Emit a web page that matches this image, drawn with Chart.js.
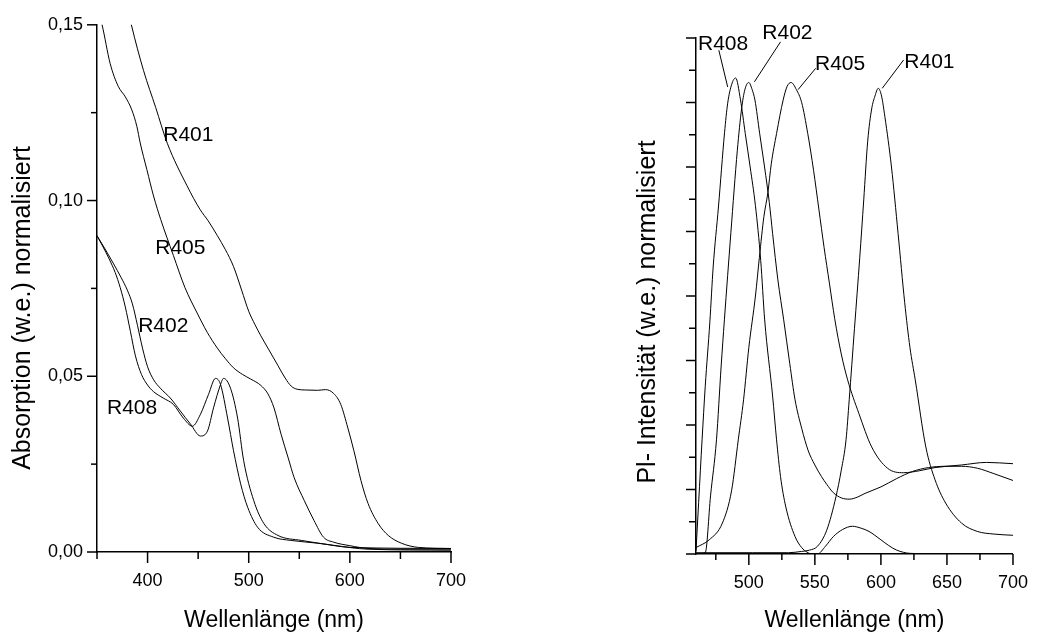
<!DOCTYPE html>
<html>
<head>
<meta charset="utf-8">
<script src="https://cdn.jsdelivr.net/npm/chart.js@4.4.1/dist/chart.umd.min.js"></script>
<style>
  html, body { margin: 0; padding: 0; background: #fff; }
  #wrap { position: relative; width: 1046px; height: 637px; }
  .box { position: absolute; top: 0; width: 523px; height: 637px; }
</style>
</head>
<body>
<div id="wrap">
  <div class="box" style="left:0"><canvas id="absChart"></canvas></div>
  <div class="box" style="left:523px"><canvas id="plChart"></canvas></div>
</div>
<script>
// ---- Absorption (left panel) ----
const absR401X = [378, 384, 396, 408, 419.5, 439, 452, 460, 469, 477, 485, 493, 500, 506, 512, 520, 529, 536, 542, 548, 556, 568, 576, 584, 591, 598, 604, 611, 618, 628, 638, 651, 668, 700];
const absR401Y = [0.158, 0.150, 0.137, 0.1265, 0.1163, 0.1042, 0.0974, 0.0942, 0.0900, 0.0860, 0.0812, 0.0745, 0.0685, 0.0648, 0.0615, 0.0575, 0.0530, 0.0495, 0.0472, 0.0463, 0.0461, 0.0460, 0.0462, 0.0451, 0.0420, 0.0353, 0.0288, 0.0203, 0.0138, 0.0081, 0.0047, 0.0025, 0.0013, 0.0010];

const absR405X = [352, 355, 363, 371, 378, 384.4, 389.4, 392.7, 399.3, 405.9, 413, 425.5, 437, 449, 459, 469, 477, 485, 494, 502, 512, 519, 525, 532, 539, 545, 555, 564.5, 574, 584, 600, 618, 650, 700];
const absR405Y = [0.153, 0.150, 0.139, 0.1325, 0.1295, 0.1258, 0.1211, 0.1164, 0.1088, 0.1013, 0.0946, 0.0844, 0.0752, 0.0680, 0.0625, 0.0580, 0.0550, 0.0524, 0.0505, 0.0492, 0.0474, 0.0450, 0.0410, 0.0335, 0.0268, 0.0211, 0.0146, 0.0090, 0.0042, 0.0028, 0.0018, 0.0010, 0.0008, 0.0008];

const absR402X = [350, 358, 366, 374, 380, 385, 390, 395, 400, 406, 412.6, 422.5, 432.4, 442.4, 452.3, 459.2, 465.2, 472.1, 475.1, 482, 489, 495, 505, 515, 529, 552, 584, 618, 700];
const absR402Y = [0.0900, 0.0862, 0.0822, 0.0780, 0.0745, 0.0706, 0.0645, 0.0580, 0.0527, 0.0490, 0.0466, 0.0438, 0.0401, 0.0364, 0.0330, 0.0344, 0.0410, 0.0476, 0.0494, 0.0466, 0.0381, 0.0260, 0.0146, 0.0081, 0.0047, 0.0033, 0.0019, 0.0008, 0.0005];

const absR408X = [350, 356, 362, 368, 373, 378, 383, 388, 394, 400, 406, 415.5, 425.5, 435.4, 444.3, 452.3, 460.2, 467.2, 472.1, 479.1, 485, 492, 499, 508.9, 524.8, 541.6, 568.5, 601.2, 700];
const absR408Y = [0.0900, 0.0868, 0.0834, 0.0795, 0.0752, 0.0697, 0.0628, 0.0558, 0.0505, 0.0475, 0.0456, 0.0438, 0.0420, 0.0381, 0.0358, 0.0392, 0.0448, 0.0494, 0.0477, 0.0381, 0.0288, 0.0194, 0.0127, 0.0070, 0.0042, 0.0033, 0.0025, 0.0013, 0.0010];

const absXTicks = [350, 400, 450, 500, 550, 600, 650, 700];
const absYTicks = [0, 0.025, 0.05, 0.075, 0.1, 0.125, 0.15];

// ---- Photoluminescence (right panel) ----
const plR408X = [460, 462, 464.6, 467, 470.5, 473, 477, 481.6, 484, 487, 490, 493.7, 497.3, 501, 505, 509, 512, 518, 521, 524, 528, 535, 540, 544, 548, 552, 558, 564, 571, 578.5, 585, 591, 600, 606, 612, 622, 650, 700];
const plR408Y = [0.05, 0.8, 1.77, 2.6, 3.6, 4.45, 5.38, 6.53, 6.99, 7.28, 7.38, 7.04, 6.52, 6.0, 5.4, 4.55, 3.63, 2.45, 1.77, 1.2, 0.73, 0.27, 0.1, 0.03, 0.0, 0.0, 0.12, 0.27, 0.38, 0.43, 0.4, 0.35, 0.22, 0.13, 0.06, 0.01, 0.0, 0.0];

const plR402X = [460, 467, 471, 475.5, 479, 481.5, 486.4, 491.3, 494.5, 497, 500, 502.5, 504.6, 508.2, 511.9, 515.5, 518, 522, 526.4, 531, 535, 540, 545, 550, 555, 559, 564, 570, 576, 582, 588, 600, 612, 624, 636, 648, 661, 673, 685, 700];
const plR402Y = [0.0, 0.02, 0.9, 1.77, 2.9, 3.63, 4.98, 6.26, 6.9, 7.2, 7.31, 7.2, 7.04, 6.52, 6.0, 5.45, 4.97, 4.25, 3.63, 2.95, 2.39, 1.95, 1.6, 1.38, 1.2, 1.08, 0.95, 0.87, 0.85, 0.88, 0.94, 1.04, 1.17, 1.28, 1.34, 1.36, 1.36, 1.33, 1.25, 1.14];

const plR405X = [460, 470, 480, 487, 492, 496, 500, 505, 508, 511.4, 514.4, 517, 521, 526, 529, 532, 536, 540, 544.6, 549, 553, 557, 561, 565, 570, 574.8, 583.3, 593, 605, 617, 629, 641, 661, 680, 700];
const plR405Y = [0.10, 0.22, 0.48, 0.99, 1.77, 2.39, 3.2, 4.0, 4.6, 5.23, 5.6, 6.05, 6.52, 7.04, 7.25, 7.31, 7.2, 7.0, 6.52, 5.95, 5.35, 4.75, 4.2, 3.65, 3.1, 2.70, 2.18, 1.66, 1.33, 1.26, 1.29, 1.34, 1.38, 1.42, 1.40];

const plR401X = [460, 503, 530, 540, 546, 552, 559, 566, 570, 573.6, 576, 580, 584, 587, 590, 593, 595.5, 598, 600.5, 603, 608, 613, 618, 622, 626, 634, 641, 649, 661, 673, 685, 700];
const plR401Y = [0.02, 0.02, 0.02, 0.04, 0.06, 0.12, 0.37, 0.89, 1.3, 1.77, 2.39, 3.5, 4.6, 5.49, 6.4, 6.9, 7.1, 7.22, 7.1, 6.78, 6.0, 4.97, 3.9, 3.2, 2.7, 1.66, 1.15, 0.79, 0.48, 0.35, 0.31, 0.29];

const plXTicks = [475, 500, 525, 550, 575, 600, 625, 650, 675, 700];
const plYTicks = [0, 0.5, 1, 1.5, 2, 2.5, 3, 3.5, 4, 4.5, 5, 5.5, 6, 6.5, 7, 7.5, 8];

// curve labels (data units): text anchor + optional leader line
const absLabels = [
    { text: 'R401', x: 415.5, y: 0.117 },
    { text: 'R405', x: 407.6, y: 0.0847 },
    { text: 'R402', x: 390.7, y: 0.0627 },
    { text: 'R408', x: 359.9, y: 0.0392 }
];
const plLabels = [
    { text: 'R408', x: 461.5, y: 7.81, line: [477.3, 7.81, 484.0, 7.24] },
    { text: 'R402', x: 510.2, y: 7.98, line: [524.0, 7.94, 504.2, 7.32] },
    { text: 'R405', x: 550.1, y: 7.50, line: [550.6, 7.53, 537.3, 7.20] },
    { text: 'R401', x: 617.7, y: 7.53, line: [617.2, 7.66, 601.0, 7.22] }
];

const FONT = "'Liberation Sans', Arial, sans-serif";
Chart.defaults.font.family = FONT;
Chart.defaults.color = '#000';

function pairs(xs, ys) {
    return xs.map((x, i) => ({ x: x, y: ys[i] }));
}

function isMajor(v, step) {
    const r = v / step;
    return Math.abs(r - Math.round(r)) < 1e-6;
}

function curve(xs, ys) {
    return {
        data: pairs(xs, ys),
        showLine: true,
        borderColor: '#000',
        borderWidth: 1,
        pointRadius: 0,
        cubicInterpolationMode: 'monotone',
        fill: false
    };
}

// draws outward tick marks, rotated y title and curve labels
const decorPlugin = {
    id: 'decor',
    afterDraw(chart, args, opts) {
        const ctx = chart.ctx;
        const xs = chart.scales.x, ys = chart.scales.y;
        ctx.save();
        ctx.strokeStyle = '#000';
        ctx.fillStyle = '#000';
        ctx.lineWidth = 1.5;
        opts.ticks.forEach(t => {
            const scale = chart.scales[t.axis];
            scale.ticks.forEach(tk => {
                const len = isMajor(tk.value, t.major) ? t.majorLen : t.minorLen;
                const p = scale.getPixelForValue(tk.value);
                ctx.beginPath();
                if (scale.isHorizontal()) {
                    ctx.moveTo(p, scale.top);
                    ctx.lineTo(p, scale.top + len);
                } else {
                    ctx.moveTo(scale.right, p);
                    ctx.lineTo(scale.right - len, p);
                }
                ctx.stroke();
            });
        });

        // y axis title
        ctx.save();
        ctx.font = '25px ' + FONT;
        ctx.textAlign = 'center';
        ctx.textBaseline = 'middle';
        ctx.translate(opts.yTitle.cx, opts.yTitle.cy);
        ctx.rotate(-Math.PI / 2);
        ctx.fillText(opts.yTitle.text, 0, 0);
        ctx.restore();

        // curve labels
        ctx.font = '21px ' + FONT;
        ctx.textAlign = 'left';
        ctx.textBaseline = 'alphabetic';
        ctx.lineWidth = 1;
        opts.labels.forEach(l => {
            ctx.fillText(l.text, xs.getPixelForValue(l.x), ys.getPixelForValue(l.y));
            if (l.line) {
                ctx.beginPath();
                ctx.moveTo(xs.getPixelForValue(l.line[0]), ys.getPixelForValue(l.line[1]));
                ctx.lineTo(xs.getPixelForValue(l.line[2]), ys.getPixelForValue(l.line[3]));
                ctx.stroke();
            }
        });
        ctx.restore();
    }
};

function axisBase() {
    return {
        type: 'linear',
        grid: { display: false, drawTicks: false },
        border: { display: true, color: '#000', width: 1.5 },
        ticks: { autoSkip: false, maxRotation: 0, font: { size: 18 } }
    };
}

// Left chart
const absX = axisBase();
Object.assign(absX, {
    min: 350, max: 700,
    afterBuildTicks: s => { s.ticks = absXTicks.map(v => ({ value: v })); },
    afterFit: s => { s.height = 85; },
    title: { display: true, text: 'Wellenlänge (nm)', font: { size: 23 }, padding: { top: 0, bottom: 3 } }
});
absX.ticks.padding = 18;
absX.ticks.callback = v => isMajor(v, 100) ? String(v) : '';

const absY = axisBase();
Object.assign(absY, {
    min: 0, max: 0.15,
    afterBuildTicks: s => { s.ticks = absYTicks.map(v => ({ value: v })); },
    afterFit: s => { s.width = 97; }
});
absY.ticks.padding = 14;
absY.ticks.callback = v => isMajor(v, 0.05) ? v.toFixed(2).replace('.', ',') : '';

new Chart(document.getElementById('absChart'), {
    type: 'scatter',
    data: {
        datasets: [
            curve(absR401X, absR401Y),
            curve(absR405X, absR405Y),
            curve(absR402X, absR402Y),
            curve(absR408X, absR408Y)
        ]
    },
    options: {
        responsive: true,
        maintainAspectRatio: false,
        animation: false,
        layout: { padding: { top: 21, right: 72, left: 0, bottom: 0 } },
        plugins: {
            legend: { display: false },
            tooltip: { enabled: false },
            decor: {
                ticks: [
                    { axis: 'x', major: 100, majorLen: 11, minorLen: 7 },
                    { axis: 'y', major: 0.05, majorLen: 10, minorLen: 6 }
                ],
                yTitle: { text: 'Absorption (w.e.) normalisiert', cx: 23, cy: 308 },
                labels: absLabels
            }
        },
        scales: { x: absX, y: absY }
    },
    plugins: [decorPlugin]
});

// Right chart
const plX = axisBase();
Object.assign(plX, {
    min: 460, max: 700,
    afterBuildTicks: s => { s.ticks = plXTicks.map(v => ({ value: v })); },
    afterFit: s => { s.height = 83; },
    title: { display: true, text: 'Wellenlänge (nm)', font: { size: 23 }, padding: { top: 0, bottom: 3 } }
});
plX.ticks.padding = 18;
plX.ticks.callback = v => isMajor(v, 50) ? String(v) : '';

const plY = axisBase();
Object.assign(plY, {
    min: 0, max: 8,
    afterBuildTicks: s => { s.ticks = plYTicks.map(v => ({ value: v })); },
    afterFit: s => { s.width = 173; }
});
plY.ticks.display = false;

new Chart(document.getElementById('plChart'), {
    type: 'scatter',
    data: {
        datasets: [
            curve(plR408X, plR408Y),
            curve(plR402X, plR402Y),
            curve(plR405X, plR405Y),
            curve(plR401X, plR401Y)
        ]
    },
    options: {
        responsive: true,
        maintainAspectRatio: false,
        animation: false,
        layout: { padding: { top: 38, right: 19, left: 0, bottom: 0 } },
        plugins: {
            legend: { display: false },
            tooltip: { enabled: false },
            decor: {
                ticks: [
                    { axis: 'x', major: 50, majorLen: 11, minorLen: 6 },
                    { axis: 'y', major: 1, majorLen: 10, minorLen: 7 }
                ],
                yTitle: { text: 'Pl- Intensität (w.e.) normalisiert', cx: 125, cy: 312 },
                labels: plLabels
            }
        },
        scales: { x: plX, y: plY }
    },
    plugins: [decorPlugin]
});
</script>
</body>
</html>
